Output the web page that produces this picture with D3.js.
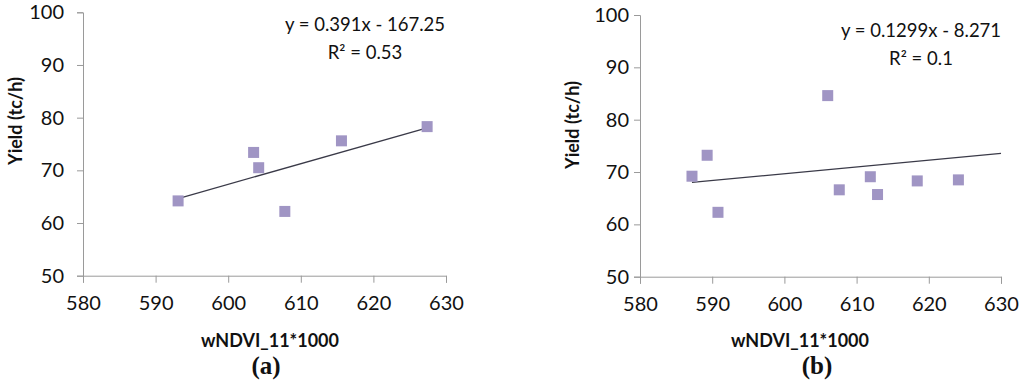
<!DOCTYPE html>
<html>
<head>
<meta charset="utf-8">
<script src="https://cdn.jsdelivr.net/npm/d3@7/dist/d3.min.js"></script>
<style>
  html, body { margin: 0; padding: 0; background: #fff; }
  svg { display: block; }
  text { font-family: Lato, "Open Sans", sans-serif; fill: #111; }
</style>
</head>
<body>
<svg id="chart" width="1024" height="381"></svg>
<script>
// ---- data ----
const xTicks = [580, 590, 600, 610, 620, 630];
const yTicks = [50, 60, 70, 80, 90, 100];

const aX = [593.1, 603.5, 604.2, 607.8, 615.6, 627.4];
const aY = [64.2, 73.4, 70.5, 62.2, 75.6, 78.3];
const aSlope = 0.391, aIntercept = -167.25;
const aEquation = "y = 0.391x - 167.25";
const aR2 = "R² = 0.53";
const aTrendRange = [593.1, 627.4];

const bX = [587.2, 589.3, 590.8, 606.0, 607.6, 611.9, 612.9, 618.4, 624.1];
const bY = [69.2, 73.2, 62.3, 84.6, 66.6, 69.1, 65.7, 68.3, 68.5];
const bSlope = 0.1299, bIntercept = -8.271;
const bEquation = "y = 0.1299x - 8.271";
const bR2 = "R² = 0.1";
const bTrendRange = [587.2, 630];

const xTitle = "wNDVI_11*1000";
const yTitle = "Yield (tc/h)";

// ---- drawing ----
const svg = d3.select("#chart");

function panel(cfg) {
  const g = svg.append("g");
  const x = d3.scaleLinear().domain([580, 630]).range([cfg.left, cfg.right]);
  const y = d3.scaleLinear().domain([50, 100]).range([cfg.bottom, cfg.top]);

  // axes
  const xa = g.append("g").attr("transform", `translate(0,${cfg.bottom})`)
    .call(d3.axisBottom(x).tickValues(xTicks).tickSize(7).tickPadding(13).tickFormat(d3.format("d")));
  const ya = g.append("g").attr("transform", `translate(${cfg.left},0)`)
    .call(d3.axisLeft(y).tickValues(yTicks).tickSize(6).tickPadding(cfg.yPad).tickFormat(d3.format("d")));
  [xa, ya].forEach(a => {
    a.select(".domain").attr("stroke", "#9a9a9a").attr("stroke-width", 1);
    a.selectAll(".tick line").attr("stroke", "#9a9a9a");
    a.selectAll(".tick text").style("font-family", "Lato, sans-serif").style("font-size", "20px").attr("fill", "#111");
  });

  // trendline
  g.append("line")
    .attr("x1", x(cfg.trend[0])).attr("y1", y(cfg.slope * cfg.trend[0] + cfg.intercept))
    .attr("x2", x(cfg.trend[1])).attr("y2", y(cfg.slope * cfg.trend[1] + cfg.intercept))
    .attr("stroke", "#3a3a48").attr("stroke-width", 1.3);

  // points
  const s = 11;
  g.selectAll("rect.pt").data(cfg.xs.map((v, i) => [v, cfg.ys[i]])).enter()
    .append("rect").attr("class", "pt")
    .attr("x", d => x(d[0]) - s / 2).attr("y", d => y(d[1]) - s / 2)
    .attr("width", s).attr("height", s)
    .attr("fill", "#a095c4");

  // equation
  g.append("text").attr("x", cfg.eqX).attr("y", cfg.eqY).attr("text-anchor", "middle")
    .style("font-size", "18.5px").text(cfg.eq);
  g.append("text").attr("x", cfg.eqX).attr("y", cfg.eqY + 28).attr("text-anchor", "middle")
    .style("font-size", "18.5px").text(cfg.r2);

  // titles
  g.append("text").attr("transform", `translate(${cfg.yTitleX},${cfg.yTitleY}) rotate(-90)`)
    .attr("text-anchor", "middle").attr("dominant-baseline", "central")
    .style("font-size", "18px").style("font-weight", "bold").text(yTitle);
  g.append("text").attr("x", cfg.xTitleX).attr("y", 347).attr("text-anchor", "middle")
    .style("font-size", "18px").style("font-weight", "bold").text(xTitle);
  g.append("text").attr("x", cfg.labX).attr("y", 374).attr("text-anchor", "middle")
    .style("font-family", "'Liberation Serif', 'DejaVu Serif', serif")
    .style("font-size", "25px").style("font-weight", "bold").text(cfg.lab);
}

panel({
  left: 83, right: 446, top: 12.3, bottom: 275.7, yPad: 13,
  xs: aX, ys: aY, slope: aSlope, intercept: aIntercept, trend: aTrendRange,
  eq: aEquation, r2: aR2, eqX: 365, eqY: 31,
  yTitleX: 15, yTitleY: 121, xTitleX: 270, labX: 266, lab: "(a)"
});
panel({
  left: 640, right: 1001, top: 15, bottom: 276.7, yPad: 5,
  xs: bX, ys: bY, slope: bSlope, intercept: bIntercept, trend: bTrendRange,
  eq: bEquation, r2: bR2, eqX: 921, eqY: 37,
  yTitleX: 572, yTitleY: 125, xTitleX: 800, labX: 817, lab: "(b)"
});
</script>
</body>
</html>
